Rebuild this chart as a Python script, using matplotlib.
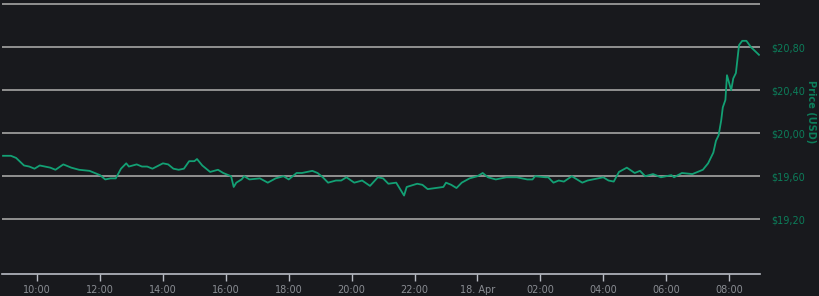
import matplotlib
matplotlib.use("Agg")
import matplotlib.pyplot as plt
import matplotlib.dates as mdates
import pandas as pd

# price samples, 17-18 Apr (times)
times = [
    "2023-04-17 08:55", "2023-04-17 09:10", "2023-04-17 09:20", "2023-04-17 09:35",
    "2023-04-17 09:45", "2023-04-17 09:55", "2023-04-17 10:05", "2023-04-17 10:25",
    "2023-04-17 10:35", "2023-04-17 10:50", "2023-04-17 11:05", "2023-04-17 11:20",
    "2023-04-17 11:40", "2023-04-17 11:50", "2023-04-17 12:00", "2023-04-17 12:10",
    "2023-04-17 12:20", "2023-04-17 12:30", "2023-04-17 12:40", "2023-04-17 12:50",
    "2023-04-17 12:55", "2023-04-17 13:10", "2023-04-17 13:20", "2023-04-17 13:30",
    "2023-04-17 13:40", "2023-04-17 14:00", "2023-04-17 14:10", "2023-04-17 14:20",
    "2023-04-17 14:30", "2023-04-17 14:40", "2023-04-17 14:50", "2023-04-17 15:00",
    "2023-04-17 15:05", "2023-04-17 15:15", "2023-04-17 15:30", "2023-04-17 15:45",
    "2023-04-17 15:55", "2023-04-17 16:10", "2023-04-17 16:15", "2023-04-17 16:20",
    "2023-04-17 16:30", "2023-04-17 16:35", "2023-04-17 16:45", "2023-04-17 17:05",
    "2023-04-17 17:20", "2023-04-17 17:35", "2023-04-17 17:50", "2023-04-17 18:00",
    "2023-04-17 18:15", "2023-04-17 18:25", "2023-04-17 18:45", "2023-04-17 18:55",
    "2023-04-17 19:05", "2023-04-17 19:15", "2023-04-17 19:30", "2023-04-17 19:40",
    "2023-04-17 19:50", "2023-04-17 20:05", "2023-04-17 20:20", "2023-04-17 20:35",
    "2023-04-17 20:50", "2023-04-17 21:00", "2023-04-17 21:10", "2023-04-17 21:25",
    "2023-04-17 21:40", "2023-04-17 21:45", "2023-04-17 22:05", "2023-04-17 22:15",
    "2023-04-17 22:25", "2023-04-17 22:40", "2023-04-17 22:55", "2023-04-17 23:00",
    "2023-04-17 23:10", "2023-04-17 23:20", "2023-04-17 23:30", "2023-04-17 23:45",
    "2023-04-18 00:00", "2023-04-18 00:10", "2023-04-18 00:20", "2023-04-18 00:35",
    "2023-04-18 00:55", "2023-04-18 01:15", "2023-04-18 01:35", "2023-04-18 01:45",
    "2023-04-18 01:50", "2023-04-18 02:10", "2023-04-18 02:15", "2023-04-18 02:25",
    "2023-04-18 02:35", "2023-04-18 02:45", "2023-04-18 03:00", "2023-04-18 03:10",
    "2023-04-18 03:20", "2023-04-18 03:30", "2023-04-18 03:50", "2023-04-18 04:00",
    "2023-04-18 04:10", "2023-04-18 04:20", "2023-04-18 04:30", "2023-04-18 04:45",
    "2023-04-18 05:00", "2023-04-18 05:10", "2023-04-18 05:20", "2023-04-18 05:35",
    "2023-04-18 05:50", "2023-04-18 06:10", "2023-04-18 06:15", "2023-04-18 06:30",
    "2023-04-18 06:50", "2023-04-18 06:55", "2023-04-18 07:10", "2023-04-18 07:20",
    "2023-04-18 07:30", "2023-04-18 07:35", "2023-04-18 07:40", "2023-04-18 07:45",
    "2023-04-18 07:48", "2023-04-18 07:53", "2023-04-18 07:56", "2023-04-18 08:04",
    "2023-04-18 08:08", "2023-04-18 08:13", "2023-04-18 08:19", "2023-04-18 08:25",
    "2023-04-18 08:33", "2023-04-18 08:42", "2023-04-18 08:57",
]
prices = [
    19.79, 19.79, 19.77, 19.70, 19.69, 19.67, 19.70, 19.68, 19.66, 19.71,
    19.68, 19.66, 19.65, 19.63, 19.61, 19.57, 19.58, 19.58, 19.67, 19.72,
    19.69, 19.71, 19.69, 19.69, 19.67, 19.72, 19.71, 19.67, 19.66, 19.67,
    19.74, 19.74, 19.76, 19.70, 19.64, 19.66, 19.63, 19.60, 19.50, 19.54,
    19.57, 19.60, 19.57, 19.58, 19.54, 19.58, 19.60, 19.57, 19.63, 19.63,
    19.65, 19.63, 19.59, 19.54, 19.56, 19.56, 19.59, 19.54, 19.56, 19.51,
    19.59, 19.58, 19.53, 19.54, 19.42, 19.50, 19.53, 19.52, 19.48, 19.49,
    19.50, 19.54, 19.52, 19.49, 19.54, 19.58, 19.60, 19.63, 19.59, 19.57,
    19.59, 19.59, 19.57, 19.57, 19.60, 19.59, 19.59, 19.54, 19.56, 19.55,
    19.60, 19.57, 19.54, 19.56, 19.58, 19.59, 19.56, 19.55, 19.64, 19.68,
    19.63, 19.65, 19.60, 19.62, 19.59, 19.61, 19.59, 19.63, 19.62, 19.63,
    19.66, 19.72, 19.82, 19.93, 19.98, 20.12, 20.24, 20.31, 20.54, 20.40,
    20.51, 20.56, 20.82, 20.86, 20.86, 20.80, 20.73,
]
y_ticks = [19.2, 19.6, 20.0, 20.4, 20.8, 21.2]
x_ticks = ["2023-04-17 %02d:00" % h for h in range(10, 24, 2)] + \
          ["2023-04-18 %02d:00" % h for h in range(0, 10, 2)]

bg = "#18191d"
green = "#13a074"
label_green = "#0c7d5a"

t = pd.to_datetime(times)

fig = plt.figure(figsize=(8.2, 2.96), dpi=100, facecolor=bg)
ax = fig.add_axes([2 / 820, 22 / 296, 758 / 820, 274 / 296])
ax.set_facecolor(bg)

ax.plot(t, prices, color=green, lw=1.3, zorder=3)

ax.set_xlim(pd.Timestamp("2023-04-17 08:53"), pd.Timestamp("2023-04-18 08:59"))
ax.set_ylim(18.69, 21.24)

# grid lines
ax.set_yticks(y_ticks)
ax.grid(axis="y", color="#9a9a9a", lw=1.3, zorder=1)
ax.yaxis.tick_right()
ax.set_yticklabels([("\\$%.2f" % v).replace(".", ",") if v < 21 else "" for v in y_ticks])
ax.tick_params(axis="y", length=0, pad=8, labelsize=7, labelcolor=label_green)

# axis title sits above the middle, as in the original
fig.text(811 / 820, 1 - 112 / 296, "Price (USD)", color=label_green, fontsize=7,
         fontweight="bold", rotation=270, ha="center", va="center")

ax.set_xticks(pd.to_datetime(x_ticks))


def fmt(x, pos):
    d = mdates.num2date(x)
    if d.hour == 0:
        return "18. Apr"
    return d.strftime("%H:%M")


ax.xaxis.set_major_formatter(plt.FuncFormatter(fmt))
ax.tick_params(axis="x", length=5, width=1, color="#b8bcc4", labelsize=7,
               labelcolor="#8a8d93", pad=3)

for s in ["top", "left", "right"]:
    ax.spines[s].set_visible(False)
ax.spines["bottom"].set_color("#b8bcc4")
ax.spines["bottom"].set_linewidth(1.2)

fig.savefig("out.png", dpi=100, facecolor=bg)
